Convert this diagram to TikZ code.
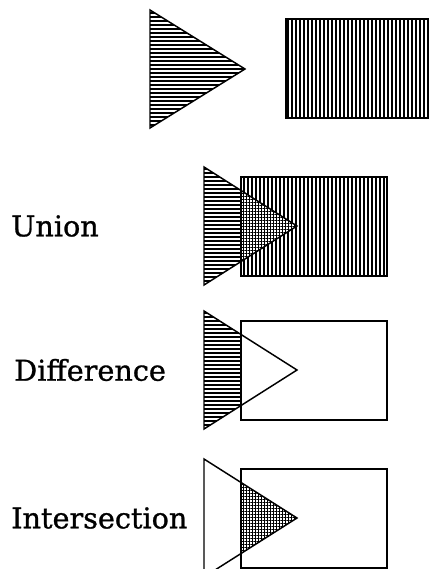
\documentclass[tikz,border=0pt]{standalone}
\usepackage{fontspec}
\usetikzlibrary{patterns.meta}
\newfontfamily\macfont[FakeBold=1]{DejaVu Serif}

% triangle and rectangle of one row, placed by the y of the tip
\newcommand{\tripath}[1]{(204,#1-59) -- (297,#1) -- (204,#1+59) -- cycle}
\newcommand{\rectpath}[1]{(241,#1-49) rectangle (387,#1+50)}

\tikzset{
	hlines/.style={pattern={Lines[angle=0,distance=3pt,line width=1.5pt]}},
	vlines/.style={pattern={Lines[angle=90,distance=3pt,line width=1.5pt]}},
	grid1/.style={pattern={Lines[angle=0,distance=2.25pt,line width=0.75pt]}},
	grid2/.style={pattern={Lines[angle=90,distance=2.25pt,line width=0.75pt]}},
	outline/.style={draw=black, line width=1.1pt},
	opname/.style={anchor=west, inner sep=0pt, font=\macfont\fontsize{21.5}{22}\selectfont}
}

\begin{document}
\begin{tikzpicture}[x=0.75pt, y=-0.75pt]
	\useasboundingbox (0,0) rectangle (429,569);
	% the two operands
	\fill[hlines] (150,10) -- (245,69) -- (150,128) -- cycle;
	\fill[vlines] (286,19) rectangle (432,118);
	\draw[outline] (150,10) -- (245,69) -- (150,128) -- cycle;
	\draw[outline] (286,19) rectangle (432,118);

	% union
	\node[opname] (lblUnion) at (11,226) {Union};
	\fill[hlines] \tripath{226};
	\fill[vlines] \rectpath{226};
	\begin{scope}
		\clip \tripath{226};
		\fill[white] \rectpath{226};
		\fill[grid1] \rectpath{226};
		\fill[grid2] \rectpath{226};
	\end{scope}
	\draw[outline] \tripath{226};
	\draw[outline] \rectpath{226};

	% difference
	\node[opname] (lblDiff) at (14,370) {Difference};
	\fill[hlines] \tripath{370};
	\fill[white] \rectpath{370};
	\draw[outline] \tripath{370};
	\draw[outline] \rectpath{370};

	% intersection
	\node[opname] (lblInter) at (11,518) {Intersection};
	\begin{scope}
		\clip \tripath{518};
		\fill[grid1] \rectpath{518};
		\fill[grid2] \rectpath{518};
	\end{scope}
	\draw[outline] \tripath{518};
	\draw[outline] \rectpath{518};
\end{tikzpicture}
\end{document}
